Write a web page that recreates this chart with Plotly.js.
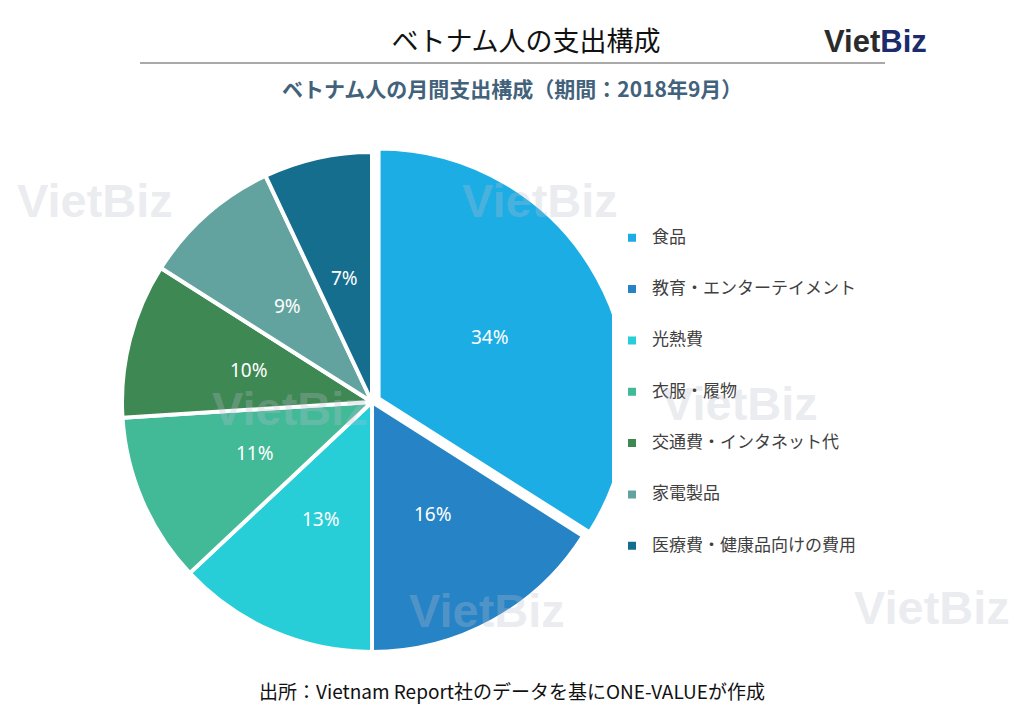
<!DOCTYPE html>
<html>
<head>
<meta charset="utf-8">
<script src="https://cdn.plot.ly/plotly-3.0.1.min.js"></script>
<style>
  body { margin: 0; background: #fff; }
  #chart { width: 1024px; height: 719px; }
</style>
</head>
<body>
<div id="chart"></div>
<script>
// 支出カテゴリと構成比（%）
var categories = ["食品", "教育・エンターテイメント", "光熱費", "衣服・履物",
                  "交通費・インタネット代", "家電製品", "医療費・健康品向けの費用"];
var shares = [34, 16, 13, 11, 10, 9, 7];
var colors = ["#1CADE4", "#2683C6", "#27CED7", "#42BA97", "#3E8853", "#62A39F", "#156E8E"];
var pulls = [0.03, 0, 0, 0, 0, 0, 0];

// watermark spots (pixels from top-left)
var marks = [[95, 201], [540, 201], [290, 408], [740, 403], [487, 610], [932, 607]];

// pie geometry in pixels (used to set the domain and the label ring)
var W = 1024, H = 719;
var cx = 372, cy = 402, R = 250;
var maxPull = Math.max.apply(null, pulls);
var half = R * (1 + maxPull);

// legend labels padded to 3 lines so entries get the wide spacing
var legendLabels = categories.map(function (c) {
    return "&nbsp;<br><span style='font-size:17px'>" + c + "</span><br>&nbsp;";
});

var trace = {
    type: "pie",
    labels: legendLabels,
    values: shares,
    sort: false,
    direction: "clockwise",
    rotation: 0,
    pull: pulls,
    marker: {colors: colors, line: {color: "#ffffff", width: 4}},
    textinfo: "none",
    hoverinfo: "skip",
    domain: {x: [(cx - half) / W, (cx + half) / W], y: [1 - (cy + half) / H, 1 - (cy - half) / H]}
};

var annotations = marks.map(function (m) {
    return {
        text: "<b>VietBiz</b>", x: m[0] / W, y: 1 - m[1] / H,
        xref: "paper", yref: "paper", showarrow: false, xanchor: "center", yanchor: "middle",
        font: {family: "Liberation Sans", size: 47, color: "rgba(185,188,205,0.3)"}
    };
});

// percentage labels at the middle of each slice, half way out
var total = shares.reduce(function (a, b) { return a + b; }, 0);
var cum = 0;
shares.forEach(function (v, i) {
    var mid = (cum + v / 2) / total * 2 * Math.PI;
    cum += v;
    var rr = 0.51 * R + pulls[i] * R;
    annotations.push({
        text: v + "%",
        x: (cx + rr * Math.sin(mid)) / W, y: 1 - (cy - rr * Math.cos(mid)) / H,
        xref: "paper", yref: "paper", showarrow: false, xanchor: "center", yanchor: "middle",
        font: {family: "Noto Sans", size: 19, color: "#ffffff"}
    });
});

annotations.push({
    text: "<b>ベトナム人の月間支出構成（期間：2018年9月）</b>",
    x: 512 / W, y: 1 - 88 / H, xref: "paper", yref: "paper", showarrow: false,
    xanchor: "center", yanchor: "middle",
    font: {family: "Noto Sans CJK JP", size: 21, color: "#42627B"}
});
annotations.push({
    text: "<b>Viet</b><b><span style='color:#1C2B6B'>Biz</span></b>",
    x: 875 / W, y: 1 - 42 / H, xref: "paper", yref: "paper", showarrow: false,
    xanchor: "center", yanchor: "middle",
    font: {family: "Liberation Sans", size: 31, color: "#2B2B2B"}
});
annotations.push({
    text: "出所：Vietnam Report社のデータを基にONE-VALUEが作成",
    x: 512 / W, y: 1 - 690 / H, xref: "paper", yref: "paper", showarrow: false,
    xanchor: "center", yanchor: "middle",
    font: {family: "Noto Sans CJK JP", size: 19, color: "#111111"}
});

var layout = {
    width: W,
    height: H,
    margin: {l: 0, r: 0, t: 0, b: 0},
    paper_bgcolor: "#ffffff",
    title: {
        text: "ベトナム人の支出構成",
        x: 526 / W, xanchor: "center", y: 1 - 42 / H, yanchor: "middle",
        font: {family: "Noto Sans CJK JP", size: 27, color: "#111111"}
    },
    showlegend: true,
    legend: {
        x: 612 / W, xanchor: "left", y: 1 - 207 / H, yanchor: "top",
        font: {family: "Noto Sans CJK JP", size: 12.4, color: "#404040"},
        tracegroupgap: 0, itemclick: false
    },
    shapes: [{
        type: "line", xref: "paper", yref: "paper",
        x0: 140 / W, x1: 885 / W, y0: 1 - 63 / H, y1: 1 - 63 / H,
        line: {color: "#555555", width: 1}
    }],
    annotations: annotations
};

Plotly.newPlot("chart", [trace], layout, {staticPlot: true});
</script>
</body>
</html>
